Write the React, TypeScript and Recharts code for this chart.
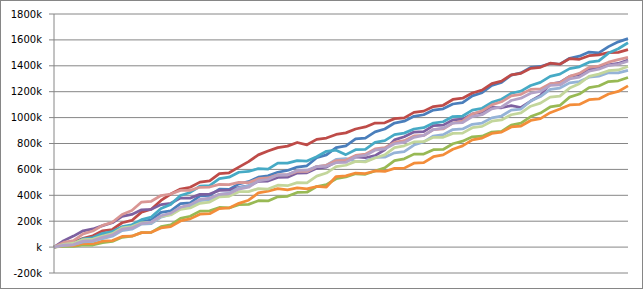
import { LineChart, Line, XAxis, YAxis, CartesianGrid } from "recharts";

// values in thousands, one entry per step
const blueRun = [
  0, 30, 32, 62, 58, 92, 110, 145, 152, 195, 210, 268, 280, 335, 342, 395, 400, 448, 446, 488,
  505, 540, 550, 578, 592, 618, 628, 690, 712, 768, 782, 835, 842, 890, 912, 958, 972, 1010, 1022, 1058,
  1068, 1105, 1115, 1168, 1192, 1248, 1272, 1328, 1345, 1388, 1395, 1418, 1412, 1458, 1474, 1506, 1500, 1548, 1585, 1610,
];
const redRun = [
  0, 22, 35, 68, 88, 126, 136, 188, 206, 270, 292, 360, 410, 448, 462, 502, 512, 568, 574, 618,
  660, 712, 742, 768, 780, 808, 790, 832, 842, 870, 882, 912, 928, 958, 960, 992, 998, 1040, 1050, 1085,
  1095, 1140, 1150, 1190, 1212, 1262, 1282, 1330, 1342, 1380, 1388, 1420, 1412, 1455, 1450, 1478, 1484, 1502, 1504, 1525,
];
const greenRun = [
  0, 8, 6, 18, 16, 34, 44, 76, 84, 112, 114, 158, 172, 222, 238, 278, 280, 306, 302, 328,
  330, 358, 356, 388, 392, 422, 424, 468, 482, 528, 542, 566, 562, 588, 612, 668, 682, 718, 718, 752,
  754, 798, 818, 852, 856, 888, 894, 942, 958, 1008, 1035, 1082, 1094, 1158, 1182, 1232, 1244, 1278, 1284, 1310,
];
const purpleRun = [
  0, 50, 85, 126, 140, 166, 188, 238, 252, 288, 292, 328, 338, 378, 378, 408, 410, 438, 440, 462,
  472, 508, 510, 538, 540, 572, 574, 608, 618, 658, 664, 696, 690, 706, 752, 828, 852, 888, 892, 938,
  942, 982, 988, 1028, 1042, 1078, 1076, 1092, 1078, 1128, 1172, 1258, 1272, 1318, 1332, 1372, 1384, 1408, 1418, 1445,
];
const tealRun = [
  0, 20, 26, 64, 74, 106, 120, 158, 172, 212, 232, 298, 330, 398, 422, 470, 474, 528, 540, 578,
  584, 606, 602, 648, 648, 668, 664, 698, 740, 748, 714, 752, 754, 808, 822, 868, 880, 912, 922, 958,
  968, 1008, 1012, 1058, 1072, 1118, 1142, 1188, 1204, 1248, 1272, 1318, 1336, 1378, 1392, 1428, 1438, 1498, 1532, 1578,
];
const orangeRun = [
  0, 12, 12, 28, 26, 46, 50, 82, 84, 112, 114, 148, 158, 202, 218, 254, 258, 298, 302, 338,
  362, 418, 432, 452, 442, 458, 450, 468, 464, 545, 550, 572, 568, 588, 584, 608, 610, 648, 652, 698,
  712, 756, 782, 828, 842, 878, 888, 928, 935, 978, 992, 1038, 1066, 1098, 1102, 1138, 1144, 1182, 1202, 1245,
];
const lightBlueRun = [
  0, 14, 18, 40, 44, 66, 84, 128, 138, 178, 182, 232, 252, 298, 312, 358, 366, 408, 416, 458,
  472, 518, 532, 558, 558, 588, 584, 622, 632, 678, 684, 662, 664, 692, 694, 728, 738, 788, 812, 858,
  868, 908, 912, 948, 958, 998, 1012, 1058, 1066, 1128, 1162, 1218, 1228, 1268, 1278, 1312, 1320, 1346, 1346, 1365,
];
const pinkRun = [
  0, 36, 50, 102, 124, 168, 192, 252, 282, 348, 354, 398, 410, 438, 438, 462, 464, 484, 482, 500,
  498, 528, 534, 558, 558, 585, 584, 622, 632, 668, 672, 708, 718, 758, 768, 808, 822, 858, 862, 908,
  912, 958, 972, 1028, 1052, 1098, 1122, 1168, 1180, 1218, 1222, 1262, 1268, 1318, 1342, 1388, 1398, 1428, 1448, 1465,
];
const lightGreenRun = [
  0, 22, 30, 58, 62, 86, 104, 148, 158, 188, 192, 238, 248, 292, 302, 338, 348, 388, 392, 428,
  428, 452, 448, 478, 474, 498, 496, 548, 572, 622, 632, 662, 658, 688, 712, 768, 782, 812, 814, 848,
  848, 878, 880, 922, 932, 972, 982, 1022, 1036, 1088, 1112, 1158, 1166, 1228, 1262, 1318, 1336, 1362, 1368, 1395,
];
const lightPurpleRun = [
  0, 16, 20, 46, 50, 76, 94, 138, 148, 182, 192, 242, 262, 308, 328, 368, 378, 408, 412, 448,
  462, 512, 522, 556, 558, 592, 594, 622, 624, 652, 654, 698, 708, 748, 758, 798, 808, 848, 862, 908,
  918, 958, 962, 1008, 1022, 1068, 1082, 1132, 1150, 1188, 1202, 1248, 1252, 1298, 1312, 1358, 1374, 1402, 1412, 1435,
];

const Y_TICKS = [-200, 0, 200, 400, 600, 800, 1000, 1200, 1400, 1600, 1800];

const SERIES = [
  { key: "s1", values: blueRun, color: "#4A7EBB" },
  { key: "s2", values: redRun, color: "#BE4B48" },
  { key: "s3", values: greenRun, color: "#98B954" },
  { key: "s4", values: purpleRun, color: "#7D60A0" },
  { key: "s5", values: tealRun, color: "#46AAC5" },
  { key: "s6", values: orangeRun, color: "#F38D3A" },
  { key: "s7", values: lightBlueRun, color: "#95B3D7" },
  { key: "s8", values: pinkRun, color: "#D99694" },
  { key: "s9", values: lightGreenRun, color: "#C3D69B" },
  { key: "s10", values: lightPurpleRun, color: "#B3A2C7" },
];

const rows = blueRun.map((_, i) => {
  const row: Record<string, number> = { step: i };
  SERIES.forEach((s) => {
    row[s.key] = s.values[i];
  });
  return row;
});

const formatK = (v: number) => (v === 0 ? "k" : `${v}k`);

export default function App() {
  return (
    <div
      style={{
        width: 643,
        height: 289,
        boxSizing: "border-box",
        border: "1px solid #868686",
        background: "#fff",
      }}
    >
      <style>{`body{margin:0}`}</style>
      <LineChart
        width={641}
        height={287}
        data={rows}
        margin={{ top: 13, right: 14, bottom: 15, left: 0 }}
      >
        <CartesianGrid vertical={false} stroke="#868686" strokeWidth={1} />
        <XAxis type="number" dataKey="step" domain={[0, 59]} hide />
        <YAxis
          width={53}
          domain={[-200, 1800]}
          ticks={Y_TICKS}
          interval={0}
          tickFormatter={formatK}
          tickSize={5}
          tickMargin={7}
          axisLine={{ stroke: "#868686" }}
          tickLine={{ stroke: "#868686" }}
          tick={{ fill: "#000", fontSize: 10, fontFamily: "DejaVu Sans" }}
        />
        {SERIES.map((s) => (
          <Line
            key={s.key}
            type="linear"
            dataKey={s.key}
            stroke={s.color}
            strokeWidth={2.75}
            strokeLinejoin="round"
            dot={false}
            isAnimationActive={false}
          />
        ))}
      </LineChart>
    </div>
  );
}
